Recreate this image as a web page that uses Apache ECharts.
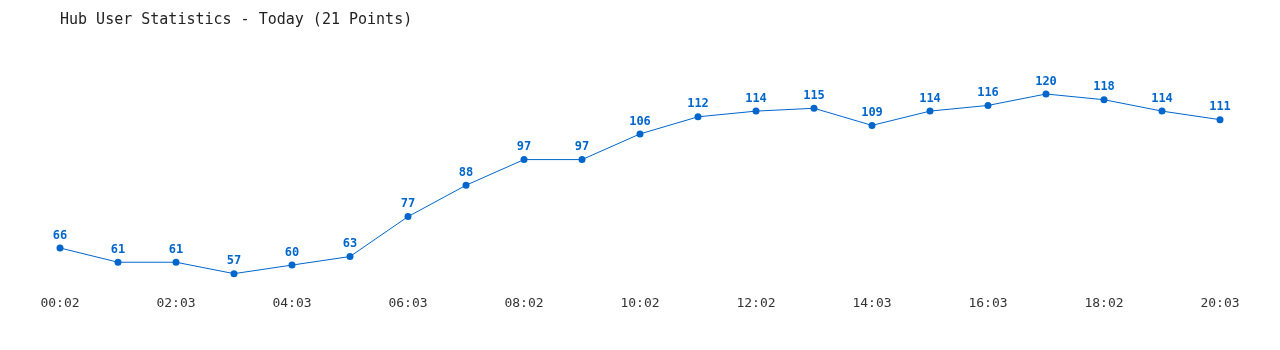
<!DOCTYPE html>
<html><head><meta charset="utf-8">
<script src="https://cdn.jsdelivr.net/npm/echarts@6/dist/echarts.min.js"></script>
<style>html,body{margin:0;padding:0;background:#fff}#c{width:1280px;height:350px}</style>
</head><body><div id="c"></div>
<script>
const categories = ["00:02","01:03","02:03","03:03","04:03","05:03","06:03","07:03","08:02","09:02","10:02","11:02","12:02","13:03","14:03","15:03","16:03","17:03","18:02","19:02","20:03"];
const users = [66,61,61,57,60,63,77,88,97,97,106,112,114,115,109,114,116,120,118,114,111];
const titleText = "Hub User Statistics - Today (21 Points)";
const chart = echarts.init(document.getElementById('c'));
chart.setOption({
  animation:false,
  backgroundColor:'#fff',
  title:{text:titleText,left:55,top:8,textStyle:{fontFamily:'DejaVu Sans Mono',fontSize:15,fontWeight:'normal',color:'#222'}},
  grid:{left:60,right:60,top:65.5,bottom:56.4},
  xAxis:{type:'category',data:categories,boundaryGap:false,
    axisLine:{show:false},axisTick:{show:false},splitLine:{show:false},
    axisLabel:{interval:1,margin:4,fontFamily:'DejaVu Sans Mono',fontSize:13,color:'#333'}},
  yAxis:{type:'value',min:50,max:130,show:false},
  series:[{type:'line',data:users,symbol:'circle',symbolSize:7,
    lineStyle:{color:'#0066cc',width:1},itemStyle:{color:'#0066cc'},
    label:{show:true,position:'top',distance:3,fontFamily:'DejaVu Sans Mono',fontSize:12,fontWeight:'bold',color:'#0066cc'}}]
});
</script></body></html>
